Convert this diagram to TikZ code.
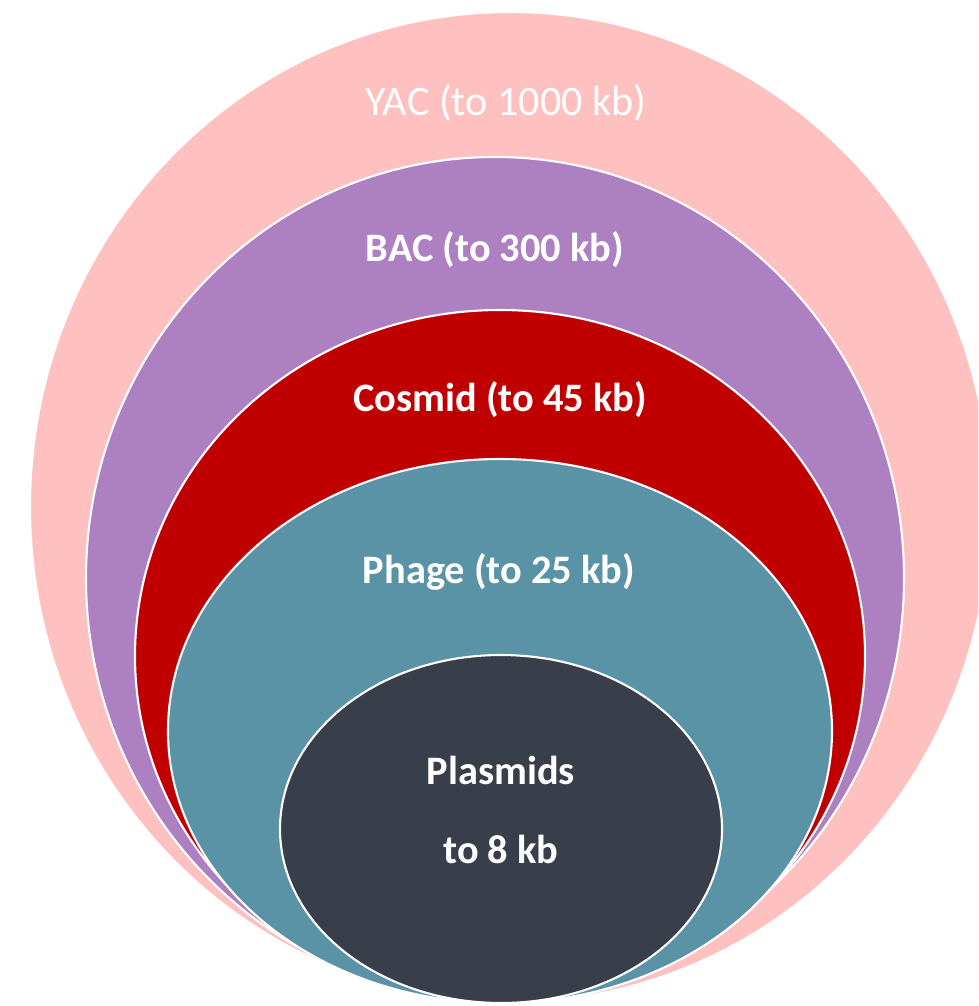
\documentclass[tikz,border=0pt]{standalone}
\usepackage{fontspec}
\setmainfont{Carlito}
\definecolor{yacpink}{RGB}{255,192,192}
\definecolor{bacpurple}{RGB}{173,128,194}
\definecolor{cosred}{RGB}{192,0,0}
\definecolor{phageteal}{RGB}{91,147,166}
\definecolor{plasdark}{RGB}{56,62,74}
\tikzset{
  vectorring/.style={fill=#1, draw=white, line width=1.2pt},
  sizelbl/.style={text=white, inner sep=0pt, font=\fontsize{23}{45}\selectfont\bfseries, align=center},
}
\begin{document}
\begin{tikzpicture}[x=0.02cm,y=-0.02cm]
      \useasboundingbox (0,0) rectangle (978,1006);
      \clip (0,0) rectangle (978,1006);
      \fill[white] (0,0) rectangle (978,1006);
      % nested vectors, largest first
      \path[vectorring=yacpink] (510,507) ellipse [x radius=480, y radius=495];
      \path[vectorring=bacpurple] (495,578) ellipse [x radius=409, y radius=421];
      \path[vectorring=cosred] (500,656) ellipse [x radius=365, y radius=346];
      \path[vectorring=phageteal] (500,731) ellipse [x radius=332, y radius=272];
      \path[vectorring=plasdark] (501,829) ellipse [x radius=221, y radius=174];
      \draw
        (506,103) node[sizelbl, font=\fontsize{24}{28}\selectfont] (yac) {YAC (to 1000 kb)}
        (495,250) node[sizelbl] (bac) {BAC (to 300 kb)}
        (500,400) node[sizelbl] (cosmid) {Cosmid (to 45 kb)}
        (499,572) node[sizelbl] (phage) {Phage (to 25 kb)}
        (501,810) node[sizelbl] (plasmids) {Plasmids\\to 8 kb};
    \end{tikzpicture}
\end{document}
